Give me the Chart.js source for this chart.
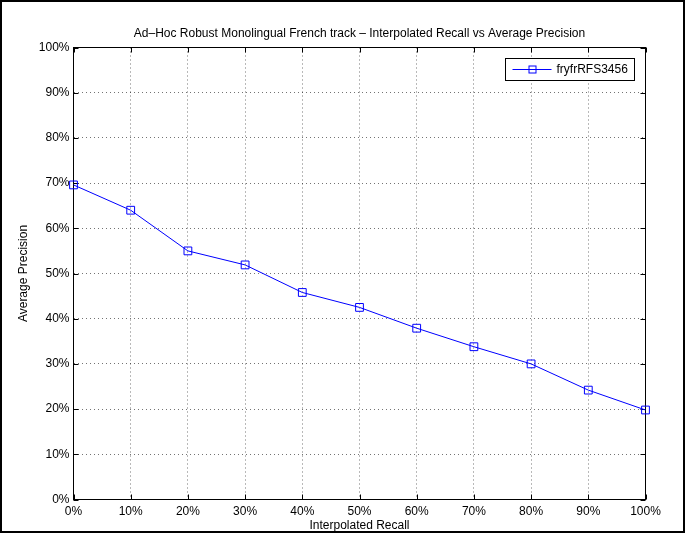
<!DOCTYPE html>
<html>
<head>
<meta charset="utf-8">
<script src="https://cdn.jsdelivr.net/npm/chart.js@4.4.1/dist/chart.umd.min.js"></script>
<style>
  html, body { margin: 0; padding: 0; background: #fff; overflow: hidden; }
  canvas { display: block; }
</style>
</head>
<body>
<canvas id="prChart" width="685" height="533"></canvas>
<script>
// data
const recallLevels = [0, 10, 20, 30, 40, 50, 60, 70, 80, 90, 100];
const avgPrecision = [69.6, 64.0, 55.0, 51.9, 45.8, 42.5, 37.9, 33.8, 30.0, 24.2, 19.8];
const seriesName = 'fryfrRFS3456';
const chartTitle = 'Ad\u2013Hoc Robust Monolingual French track \u2013 Interpolated Recall vs Average Precision';
const xTicks = [0, 10, 20, 30, 40, 50, 60, 70, 80, 90, 100];
const yTicks = [0, 10, 20, 30, 40, 50, 60, 70, 80, 90, 100];

const FONT = "'Liberation Sans', Arial, Helvetica, sans-serif";
const BLUE = '#0000ff';

// Matlab-like frame: white page, outer border, title over the axes, box, inward ticks, legend
const matlabFrame = {
    id: 'matlabFrame',
    beforeDraw(chart) {
        const { ctx, chartArea: a } = chart;
        ctx.save();
        ctx.fillStyle = '#fff';
        ctx.fillRect(0, 0, chart.width, chart.height);
        ctx.strokeStyle = '#000';
        ctx.lineWidth = 2;
        ctx.strokeRect(1, 1, chart.width - 2, chart.height - 2);
        // title centred over the plot box
        ctx.fillStyle = '#000';
        ctx.font = '12px ' + FONT;
        ctx.textAlign = 'center';
        ctx.textBaseline = 'middle';
        ctx.fillText(chartTitle, (a.left + a.right) / 2, 33.5);
        ctx.restore();
    },
    beforeDatasetsDraw(chart) {
        const { ctx, chartArea: a, scales } = chart;
        ctx.save();
        ctx.strokeStyle = '#000';
        ctx.lineWidth = 1;
        ctx.strokeRect(a.left, a.top, a.right - a.left, a.bottom - a.top);
        ctx.beginPath();
        xTicks.forEach(v => {
            const px = Math.round(scales.x.getPixelForValue(v)) + 0.5;
            ctx.moveTo(px, a.bottom); ctx.lineTo(px, a.bottom - 5);
            ctx.moveTo(px, a.top); ctx.lineTo(px, a.top + 5);
        });
        yTicks.forEach(v => {
            const py = Math.round(scales.y.getPixelForValue(v)) + 0.5;
            ctx.moveTo(a.left, py); ctx.lineTo(a.left + 5, py);
            ctx.moveTo(a.right, py); ctx.lineTo(a.right - 5, py);
        });
        ctx.stroke();
        ctx.restore();
    },
    afterDraw(chart) {
        const { ctx, chartArea: a } = chart;
        const ds = chart.data.datasets[0];
        ctx.save();
        ctx.font = '12px ' + FONT;
        const tw = ctx.measureText(ds.label).width;
        const w = Math.round(51 + tw + 7);
        const h = 22;
        const x0 = Math.round(a.right - 12 - w) + 0.5;
        const y0 = Math.round(a.top + 10) + 0.5;
        ctx.fillStyle = '#fff';
        ctx.fillRect(x0, y0, w, h);
        ctx.strokeStyle = '#000';
        ctx.lineWidth = 1;
        ctx.strokeRect(x0, y0, w, h);
        const cy = y0 + h / 2;
        ctx.strokeStyle = BLUE;
        ctx.beginPath();
        ctx.moveTo(x0 + 7, cy); ctx.lineTo(x0 + 46, cy);
        ctx.stroke();
        ctx.strokeRect(x0 + 27 - 3.5, cy - 3.5, 7, 7);
        ctx.fillStyle = '#000';
        ctx.textBaseline = 'middle';
        ctx.fillText(ds.label, x0 + 51, cy + 0.5);
        ctx.restore();
    }
};

const ctx = document.getElementById('prChart').getContext('2d');
new Chart(ctx, {
    type: 'line',
    data: {
        datasets: [{
            label: seriesName,
            data: recallLevels.map((r, i) => ({ x: r, y: avgPrecision[i] })),
            borderColor: BLUE,
            borderWidth: 1,
            backgroundColor: 'rgba(0,0,0,0)',
            pointStyle: 'rect',
            pointRadius: 5.5,
            pointBorderColor: BLUE,
            pointBackgroundColor: 'rgba(0,0,0,0)',
            pointBorderWidth: 1,
            tension: 0,
            fill: false,
            clip: false
        }]
    },
    options: {
        responsive: false,
        animation: false,
        devicePixelRatio: 1,
        layout: { padding: { left: 0, right: 39.5, top: 47.5, bottom: 0 } },
        plugins: {
            legend: { display: false },
            tooltip: { enabled: false },
            title: { display: false }
        },
        scales: {
            x: {
                type: 'linear',
                min: 0,
                max: 100,
                afterBuildTicks: s => { s.ticks = xTicks.map(v => ({ value: v })); },
                afterFit: s => { s.height = 33.5; },
                ticks: {
                    color: '#000',
                    font: { family: FONT, size: 12 },
                    padding: 5,
                    maxRotation: 0,
                    callback: v => v + '%'
                },
                grid: { color: 'rgba(0,0,0,0.55)', lineWidth: 1, drawTicks: false },
                border: { display: false, dash: [1, 3] },
                title: {
                    display: true,
                    text: 'Interpolated Recall',
                    color: '#000',
                    font: { family: FONT, size: 12 },
                    padding: { top: 0, bottom: 0 }
                }
            },
            y: {
                type: 'linear',
                min: 0,
                max: 100,
                afterBuildTicks: s => { s.ticks = yTicks.map(v => ({ value: v })); },
                afterFit: s => { s.width = 73.5; },
                ticks: {
                    color: '#000',
                    font: { family: FONT, size: 12 },
                    padding: 4,
                    callback: v => v + '%'
                },
                grid: { color: 'rgba(0,0,0,0.55)', lineWidth: 1, drawTicks: false },
                border: { display: false, dash: [1, 3] },
                title: {
                    display: true,
                    text: 'Average Precision',
                    color: '#000',
                    font: { family: FONT, size: 12 },
                    padding: { top: 16, bottom: 0 }
                }
            }
        }
    },
    plugins: [matlabFrame]
});
</script>
</body>
</html>
